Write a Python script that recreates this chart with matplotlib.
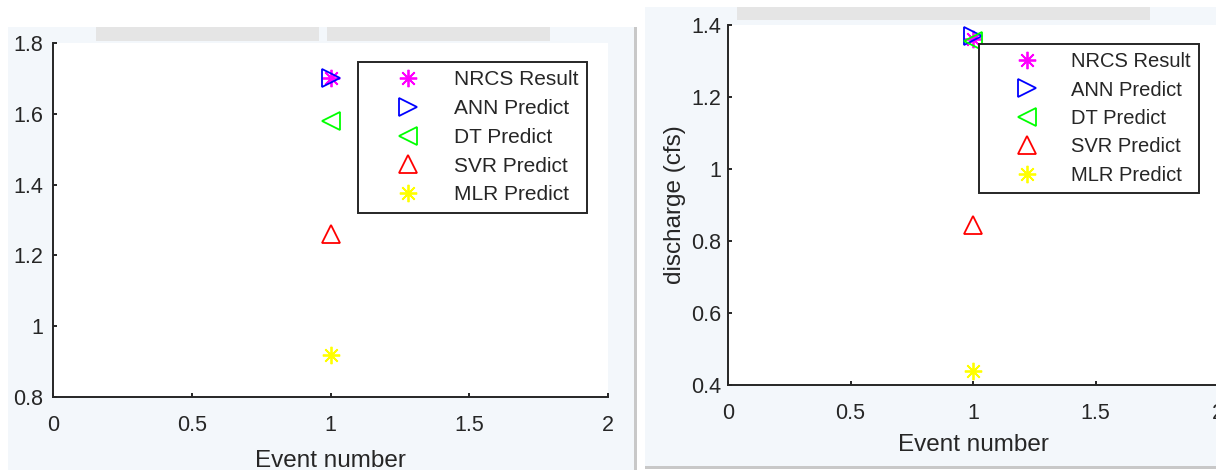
import matplotlib
matplotlib.use('Agg')
import matplotlib.pyplot as plt
from matplotlib.patches import Rectangle

plt.rcParams['font.family'] = ['Liberation Sans', 'DejaVu Sans']

# peak values for event 1, one entry per model
series_labels = ['NRCS Result', 'ANN Predict', 'DT Predict', 'SVR Predict', 'MLR Predict']
event = [1]
peak_left = [1.70, 1.70, 1.58, 1.26, 0.92]
peak_right = [1.36, 1.37, 1.355, 0.845, 0.44]

markers = [(8, 2, 0), '>', '<', '^', (8, 2, 0)]
colors = ['#ff00ff', '#0000ff', '#00ff00', '#ff0000', '#ffff00']

W, H = 1216, 470
fig = plt.figure(figsize=(W / 100, H / 100), dpi=100)
fig.patch.set_facecolor('white')

BG = '#f3f7fb'
BAR = '#e5e5e5'
INK = '#262626'


def fr(x0, y0, x1, y1):
    # pixel box (top-left origin) -> figure fraction rect
    return [x0 / W, 1 - y1 / H, (x1 - x0) / W, (y1 - y0) / H]


def box(x0, y0, x1, y1, color):
    r = fr(x0, y0, x1, y1)
    fig.add_artist(Rectangle((r[0], r[1]), r[2], r[3], transform=fig.transFigure,
                             facecolor=color, edgecolor='none', zorder=-5))


# window backgrounds
box(8, 27, 635, 470, BG)
box(634, 27, 637, 470, '#c8c8c8')
box(645, 7, 1216, 466, BG)
box(645, 466, 1216, 469, '#c8c8c8')
# toolbar strips
box(96, 27, 319, 41, BAR)
box(327, 27, 550, 41, BAR)
box(737, 7, 1150, 20, BAR)


def panel(rect, vals, ylim, yticks, ytick_pad, xlab_y, leg_anchor, leg_font, ylabel=None):
    ax = fig.add_axes(fr(*rect))
    ax.set_facecolor('white')
    for lab, v, m, c in zip(series_labels, vals, markers, colors):
        ax.plot(event, [v], linestyle='none', marker=m, ms=12.5, mfc='none',
                mec=c, mew=1.3, label=lab)
    ax.set_xlim(0, 2)
    ax.set_ylim(*ylim)
    ax.set_xticks([0, 0.5, 1, 1.5, 2])
    ax.set_xticklabels(['0', '0.5', '1', '1.5', '2'])
    ax.set_yticks(yticks)
    ax.set_yticklabels([('%g' % t) for t in yticks])
    for s in ['top', 'right']:
        ax.spines[s].set_visible(False)
    for s in ['left', 'bottom']:
        ax.spines[s].set_color(INK)
        ax.spines[s].set_linewidth(1.4)
    ax.tick_params(direction='in', length=3, width=1.4, color=INK,
                   labelcolor=INK, labelsize=15.5)
    ax.tick_params(axis='y', pad=ytick_pad)
    ax.tick_params(axis='x', pad=13)
    ax.set_xlabel('Event number', fontsize=17.5, color=INK)
    ax.xaxis.set_label_coords(0.5, xlab_y)
    if ylabel:
        ax.set_ylabel(ylabel, fontsize=17.5, color=INK)
        ax.yaxis.set_label_coords(-0.086, 0.5)
    leg = ax.legend(loc='upper right', bbox_to_anchor=leg_anchor,
                    bbox_transform=fig.transFigure, fontsize=leg_font,
                    handlelength=4.0, handletextpad=0.2, borderpad=0.4,
                    labelspacing=0.47, borderaxespad=0, fancybox=False,
                    edgecolor=INK, framealpha=1, numpoints=1)
    leg.get_frame().set_linewidth(1.4)
    for t in leg.get_texts():
        t.set_color(INK)
    return ax


panel((53, 43, 608, 397), peak_left, (0.8, 1.8), [0.8, 1, 1.2, 1.4, 1.6, 1.8],
      7, -0.15, (587 / W, 1 - 62 / H), 15)
panel((728, 25, 1218, 385), peak_right, (0.4, 1.4), [0.4, 0.6, 0.8, 1, 1.2, 1.4],
      5, -0.135, (1199 / W, 1 - 44 / H), 14.5, ylabel='discharge (cfs)')

fig.savefig('out.png', dpi=100, facecolor=fig.get_facecolor())
